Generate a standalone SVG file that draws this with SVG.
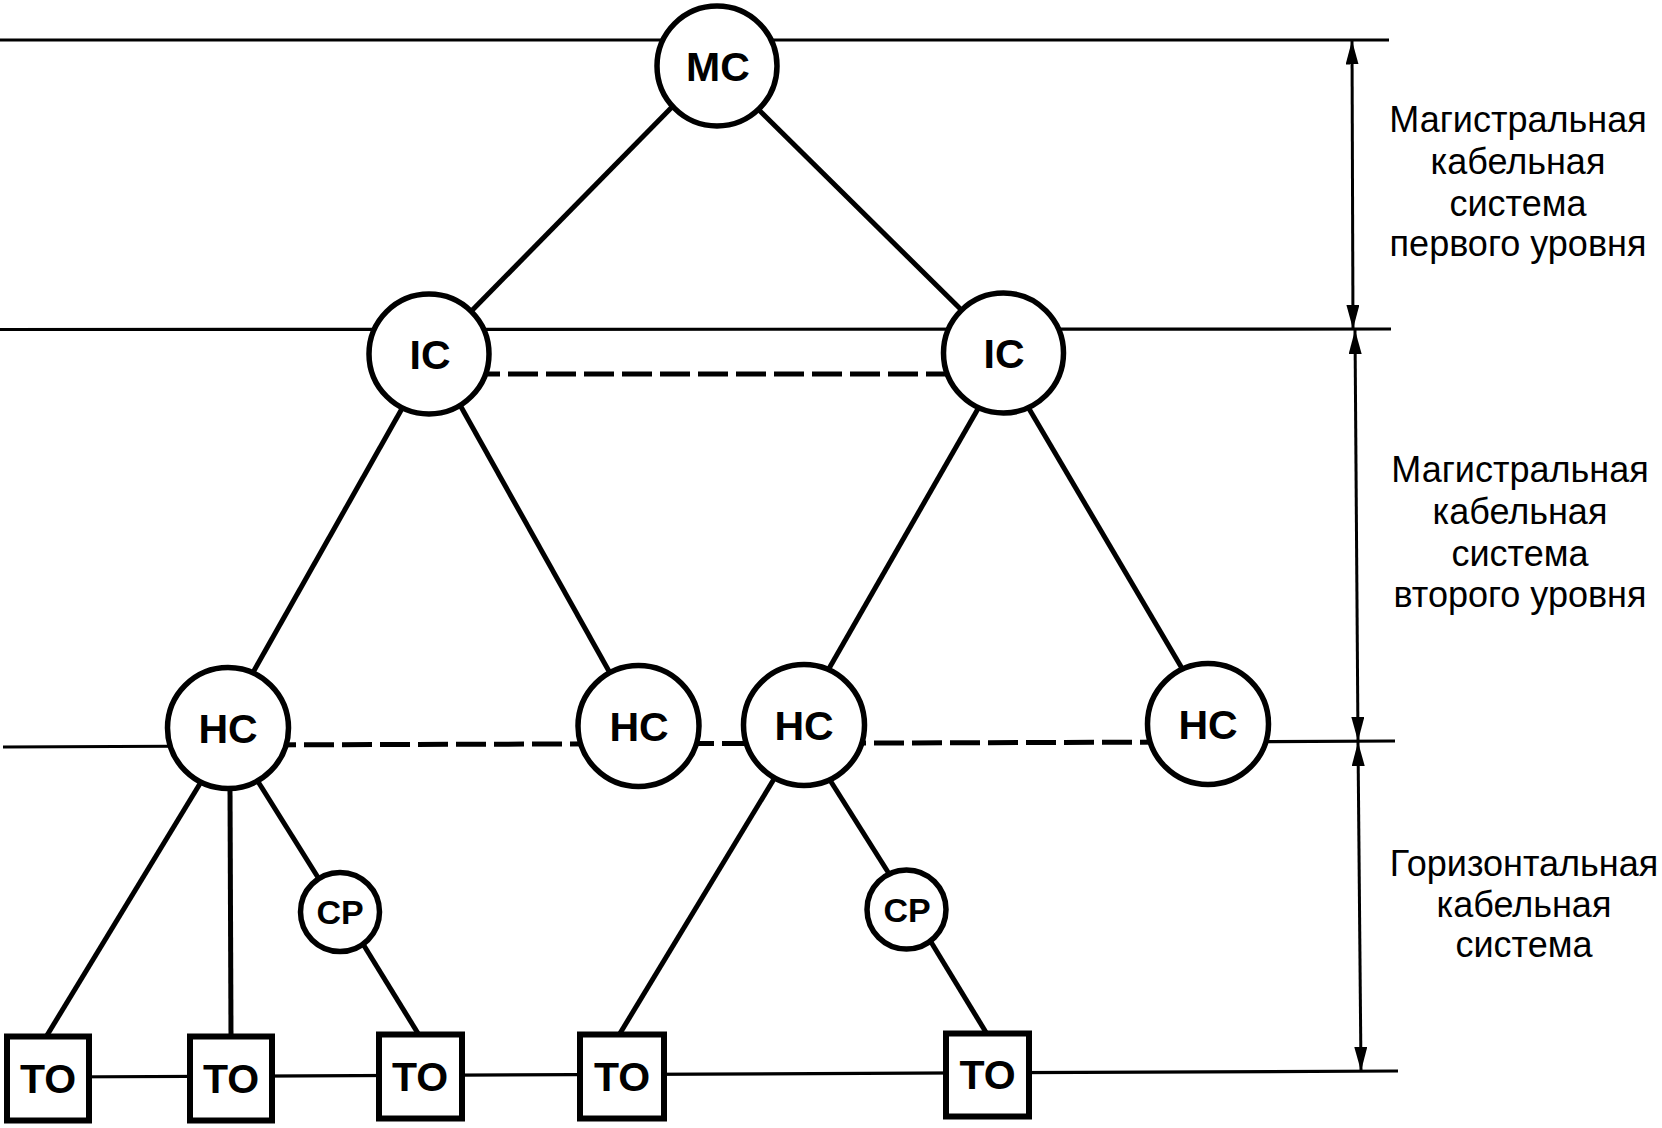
<svg xmlns="http://www.w3.org/2000/svg" width="1662" height="1128" viewBox="0 0 1662 1128">
<style>
.lvl{stroke:#000;stroke-width:3.2;fill:none}
.dash{stroke:#000;stroke-width:5;fill:none;stroke-dasharray:30 8}
.con{stroke:#000;stroke-width:5;fill:none}
.dim{stroke:#000;stroke-width:3;fill:none}
.node{fill:#fff;stroke:#000;stroke-width:5.5}
.box{fill:#fff;stroke:#000;stroke-width:6}
.lbl{font-family:"Liberation Sans",Arial,sans-serif;font-weight:bold;font-size:41px;text-anchor:middle;fill:#000}
.lblS{font-family:"Liberation Sans",Arial,sans-serif;font-weight:bold;font-size:34px;text-anchor:middle;fill:#000}
.side{font-family:"Liberation Sans",Arial,sans-serif;font-size:36px;text-anchor:middle;fill:#000}
</style>
<defs>
<marker id="arr" viewBox="0 0 24 13" refX="24" refY="6.5" markerWidth="24" markerHeight="13" markerUnits="userSpaceOnUse" orient="auto-start-reverse">
<path d="M0,0 L24,6.5 L0,13 z" fill="#000"/>
</marker>
</defs>
<rect width="1662" height="1128" fill="#fff"/>
<g id="connectors">
<line class="lvl" x1="0" y1="40" x2="1389" y2="40"/>
<line class="lvl" x1="0" y1="329.5" x2="1391" y2="329"/>
<line class="lvl" x1="3" y1="747" x2="228" y2="746"/>
<line class="dash" x1="228" y1="745" x2="1208" y2="742"/>
<line class="lvl" x1="1208" y1="742" x2="1395" y2="741"/>
<line class="lvl" x1="48" y1="1077" x2="1398" y2="1071"/>
<line class="dash" x1="470" y1="374" x2="960" y2="374"/>
<line class="con" x1="673" y1="106" x2="469" y2="313.5"/>
<line class="con" x1="758" y1="109" x2="963" y2="311.5"/>
<line class="con" x1="404" y1="405" x2="251" y2="676"/>
<line class="con" x1="460" y1="405" x2="610" y2="673"/>
<line class="con" x1="979" y1="407" x2="827" y2="672"/>
<line class="con" x1="1028" y1="407" x2="1183" y2="670"/>
<line class="con" x1="201" y1="782" x2="46" y2="1037"/>
<line class="con" x1="230" y1="787" x2="231" y2="1037"/>
<line class="con" x1="257" y1="780" x2="319" y2="879"/>
<line class="con" x1="363" y1="944" x2="419" y2="1035"/>
<line class="con" x1="774" y1="779" x2="619" y2="1035"/>
<line class="con" x1="828" y1="777" x2="893" y2="880"/>
<line class="con" x1="931" y1="942" x2="987" y2="1034"/>
<line class="dim" x1="1352" y1="40.5" x2="1353" y2="329" marker-start="url(#arr)" marker-end="url(#arr)"/>
<line class="dim" x1="1355" y1="330" x2="1358" y2="741" marker-start="url(#arr)" marker-end="url(#arr)"/>
<line class="dim" x1="1358" y1="742" x2="1361" y2="1071" marker-start="url(#arr)" marker-end="url(#arr)"/>
</g>
<g id="MC"><circle class="node" cx="717" cy="66" r="60"/><text class="lbl" x="718" y="81">MC</text></g>
<g id="IC1"><circle class="node" cx="429" cy="354" r="60"/><text class="lbl" x="430" y="369">IC</text></g>
<g id="IC2"><circle class="node" cx="1003.5" cy="353" r="60"/><text class="lbl" x="1004" y="368">IC</text></g>
<g id="HC1"><circle class="node" cx="228" cy="728" r="60.5"/><text class="lbl" x="228" y="743">HC</text></g>
<g id="HC2"><circle class="node" cx="638.5" cy="726" r="60.5"/><text class="lbl" x="639" y="741">HC</text></g>
<g id="HC3"><circle class="node" cx="804" cy="725" r="60.5"/><text class="lbl" x="804" y="740">HC</text></g>
<g id="HC4"><circle class="node" cx="1208" cy="724" r="60.5"/><text class="lbl" x="1208" y="739">HC</text></g>
<g id="CP1"><circle class="node" cx="340" cy="912" r="39.5"/><text class="lblS" x="340" y="924">CP</text></g>
<g id="CP2"><circle class="node" cx="906.5" cy="909.5" r="39.5"/><text class="lblS" x="907" y="921.5">CP</text></g>
<g id="TO1"><rect class="box" x="7" y="1036.5" width="82" height="84"/><text class="lbl" x="48" y="1093">TO</text></g>
<g id="TO2"><rect class="box" x="190" y="1036.5" width="82" height="84"/><text class="lbl" x="231" y="1093">TO</text></g>
<g id="TO3"><rect class="box" x="379" y="1034.5" width="83" height="84"/><text class="lbl" x="420" y="1091">TO</text></g>
<g id="TO4"><rect class="box" x="580" y="1034.5" width="84" height="84"/><text class="lbl" x="622" y="1091">TO</text></g>
<g id="TO5"><rect class="box" x="946" y="1033.5" width="83" height="83"/><text class="lbl" x="987.5" y="1089">TO</text></g>
<g id="label1">
<text class="side" x="1518" y="132">Магистральная</text>
<text class="side" x="1518" y="174">кабельная</text>
<text class="side" x="1518" y="216">система</text>
<text class="side" x="1518" y="256">первого уровня</text>
</g>
<g id="label2">
<text class="side" x="1520" y="482">Магистральная</text>
<text class="side" x="1520" y="524">кабельная</text>
<text class="side" x="1520" y="566">система</text>
<text class="side" x="1520" y="607">второго уровня</text>
</g>
<g id="label3">
<text class="side" x="1524" y="876">Горизонтальная</text>
<text class="side" x="1524" y="917">кабельная</text>
<text class="side" x="1524" y="957">система</text>
</g>
</svg>
